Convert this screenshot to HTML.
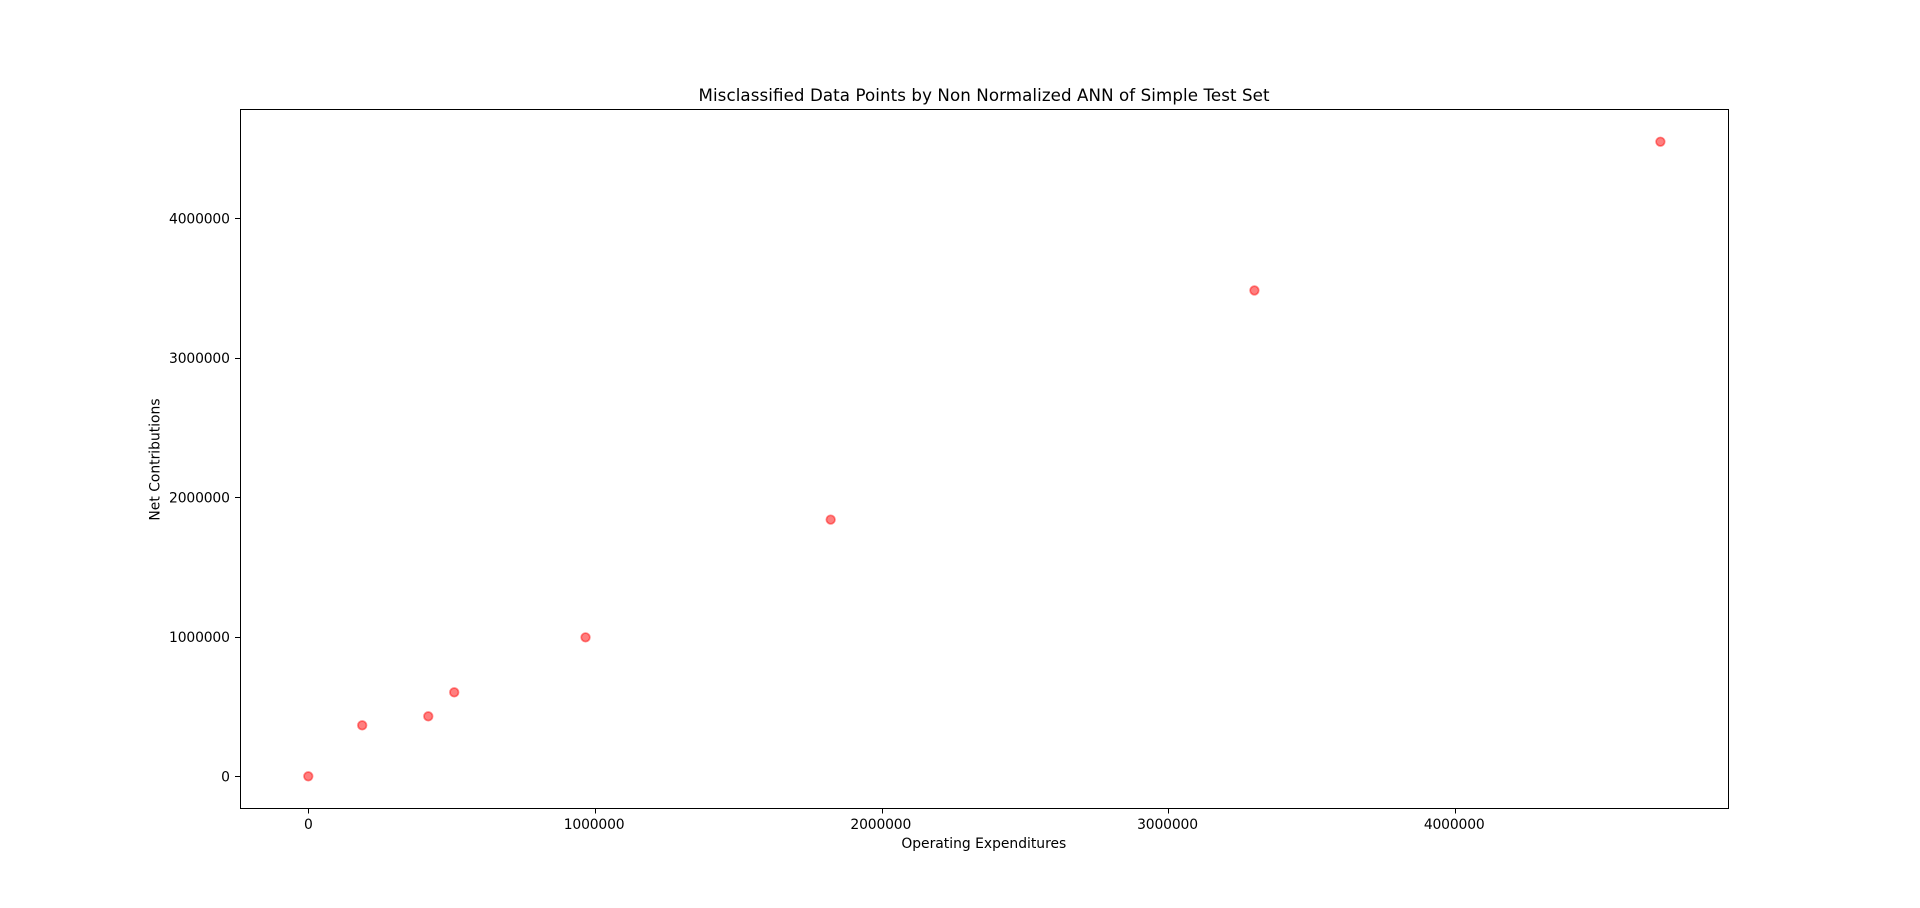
<!DOCTYPE html>
<html lang="en">
<head>
<meta charset="utf-8">
<title>Misclassified Data Points</title>
<style>
  html, body { margin: 0; padding: 0; background: #fff; }
  body { width: 1920px; height: 908px; overflow: hidden; }
  svg { display: block; }
  text { font-family: "DejaVu Sans", "Liberation Sans", sans-serif; fill: #000; }
</style>
</head>
<body>
<svg id="chart" xmlns="http://www.w3.org/2000/svg" width="1920" height="908" viewBox="0 0 1920 908">
  <rect x="0" y="0" width="1920" height="908" fill="#ffffff"/>
  <text x="984" y="101" font-size="16.67" text-anchor="middle" textLength="571" lengthAdjust="spacing">Misclassified Data Points by Non Normalized ANN of Simple Test Set</text>
  <text x="983.8" y="848" font-size="13.89" text-anchor="middle">Operating Expenditures</text>
  <text x="159.5" y="459.5" font-size="13.89" text-anchor="middle" transform="rotate(-90 159.5 459.5)">Net Contributions</text>
  <g id="marks"></g>
  <g id="ticks"></g>
  <rect x="240.5" y="109.5" width="1488" height="699" fill="none" stroke="#000" stroke-width="1.11" shape-rendering="crispEdges"/>
</svg>
<script>
const xValues = [0, 188000, 418500, 509000, 967000, 1822000, 3300000, 4716000];
const yValues = [0, 365500, 430000, 602000, 996000, 1840000, 3483000, 4549000];
const xTickValues = [0, 1000000, 2000000, 3000000, 4000000];
const yTickValues = [0, 1000000, 2000000, 3000000, 4000000];
const xTickLabels = ["0", "1000000", "2000000", "3000000", "4000000"];
const yTickLabels = ["0", "1000000", "2000000", "3000000", "4000000"];

const X_MIN = -238200, X_MAX = 4951800;
const Y_MIN = -227200, Y_MAX = 4783500;
const PLOT_LEFT = 240, PLOT_RIGHT = 1728, PLOT_TOP = 109, PLOT_BOTTOM = 808;

function xScale(v) {
  return PLOT_LEFT + (v - X_MIN) / (X_MAX - X_MIN) * (PLOT_RIGHT - PLOT_LEFT);
}
function yScale(v) {
  return PLOT_BOTTOM - (v - Y_MIN) / (Y_MAX - Y_MIN) * (PLOT_BOTTOM - PLOT_TOP);
}

const NS = "http://www.w3.org/2000/svg";
const marks = document.getElementById("marks");
const ticks = document.getElementById("ticks");

xValues.forEach(function (xv, i) {
  const c = document.createElementNS(NS, "circle");
  
  
  c.setAttribute("cx", xScale(xv));
  c.setAttribute("cy", yScale(yValues[i]));
  c.setAttribute("r", 4.3);
  c.setAttribute("fill", "#ff0000");
  c.setAttribute("fill-opacity", 0.5);
  c.setAttribute("stroke", "#ff0000");
  c.setAttribute("stroke-opacity", 0.45);
  c.setAttribute("stroke-width", 1.7);
  marks.appendChild(c);
});

xTickValues.forEach(function (v, i) {
  const px = Math.round(xScale(v)) + 0.5;
  const line = document.createElementNS(NS, "line");
  
  
  line.setAttribute("x1", px);
  line.setAttribute("x2", px);
  line.setAttribute("y1", PLOT_BOTTOM);
  line.setAttribute("y2", PLOT_BOTTOM + 5.4);
  line.setAttribute("stroke", "#000");
  line.setAttribute("stroke-width", 1.11);
  line.setAttribute("shape-rendering", "crispEdges");
  ticks.appendChild(line);
  const t = document.createElementNS(NS, "text");
  
  
  t.setAttribute("x", xScale(v) - (v === 0 ? 0 : 0.9));
  t.setAttribute("y", 829);
  t.setAttribute("font-size", 13.89);
  t.setAttribute("text-anchor", "middle");
  t.setAttribute("letter-spacing", "-0.15");
  t.textContent = xTickLabels[i];
  ticks.appendChild(t);
});

yTickValues.forEach(function (v, i) {
  const py = Math.round(yScale(v)) + 0.5;
  const line = document.createElementNS(NS, "line");
  
  
  line.setAttribute("x1", PLOT_LEFT - 4.9);
  line.setAttribute("x2", PLOT_LEFT);
  line.setAttribute("y1", py);
  line.setAttribute("y2", py);
  line.setAttribute("stroke", "#000");
  line.setAttribute("stroke-width", 1.11);
  line.setAttribute("shape-rendering", "crispEdges");
  ticks.appendChild(line);
  const t = document.createElementNS(NS, "text");
  
  
  t.setAttribute("x", 229.8);
  t.setAttribute("y", yScale(v) + 5.3);
  t.setAttribute("font-size", 13.89);
  t.setAttribute("text-anchor", "end");
  t.setAttribute("letter-spacing", "-0.15");
  t.textContent = yTickLabels[i];
  ticks.appendChild(t);
});
</script>
</body>
</html>
